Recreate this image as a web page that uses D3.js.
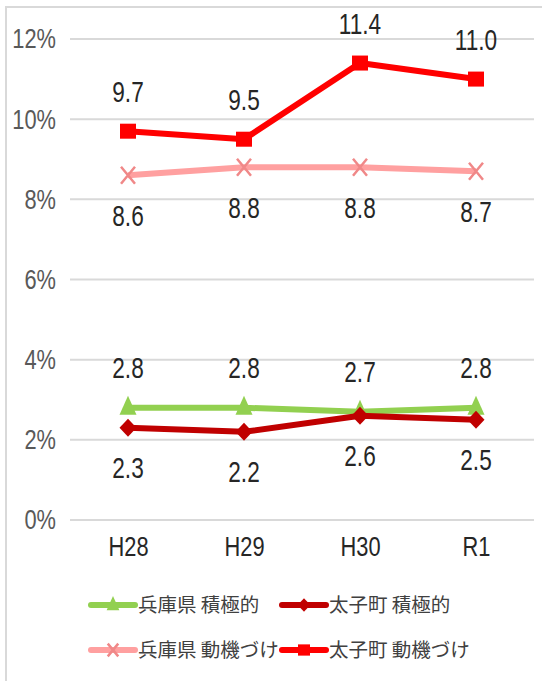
<!DOCTYPE html>
<html>
<head>
<meta charset="utf-8">
<script src="https://cdn.jsdelivr.net/npm/d3@7"></script>
<style>
  body { margin: 0; background: #fff; }
  .num { font-family: "Liberation Sans", Arial, sans-serif; }
  .jp { font-family: "Noto Sans CJK JP", sans-serif; }
</style>
</head>
<body>
<div id="chart"></div>
<script>
const categories = ["H28", "H29", "H30", "R1"];
const yTicks = [0, 2, 4, 6, 8, 10, 12];

const hyogoActive = [2.8, 2.8, 2.7, 2.8];
const taishiActive = [2.3, 2.2, 2.6, 2.5];
const hyogoMotive = [8.6, 8.8, 8.8, 8.7];
const taishiMotive = [9.7, 9.5, 11.4, 11.0];

const seriesNames = ["兵庫県 積極的", "太子町 積極的", "兵庫県 動機づけ", "太子町 動機づけ"];

const width = 542, height = 681;
const squeeze = 0.78; // the original number font is a narrow one

const svg = d3.select("#chart").append("svg")
    .attr("width", width)
    .attr("height", height);

// outer frame (runs off the right and bottom)
svg.append("rect")
    .attr("x", 6).attr("y", 7)
    .attr("width", 600).attr("height", 700)
    .attr("fill", "none")
    .attr("stroke", "#d9d9d9")
    .attr("stroke-width", 2);

const x = d3.scalePoint().domain(categories).range([70, 534]).padding(0.5);
const y = d3.scaleLinear().domain([0, 12]).range([520, 39]);

// gridlines
svg.append("g").selectAll("line")
    .data(yTicks)
    .join("line")
    .attr("x1", 70).attr("x2", 534)
    .attr("y1", d => y(d)).attr("y2", d => y(d))
    .attr("stroke", "#d9d9d9")
    .attr("stroke-width", 2);

// y axis labels
const yAxis = svg.append("g")
    .attr("transform", "translate(56,0)")
    .call(d3.axisLeft(y).tickValues(yTicks).tickSize(0).tickPadding(0).tickFormat(d => d + "%"));
yAxis.select(".domain").remove();
yAxis.selectAll("text")
    .attr("class", "num")
    .attr("font-size", 28)
    .attr("fill", "#595959")
    .attr("transform", `scale(${squeeze},1)`);

// x axis labels
const xAxis = svg.append("g")
    .attr("transform", "translate(0,536)")
    .call(d3.axisBottom(x).tickSize(0).tickPadding(0));
xAxis.select(".domain").remove();
xAxis.selectAll("text")
    .attr("class", "num")
    .attr("font-size", 28)
    .attr("fill", "#262626")
    .attr("transform", `scale(${squeeze},1)`);

const series = [
    { name: seriesNames[0], values: hyogoActive, color: "#92d050", mark: "#92d050", shape: "triangle", width: 6, label: -40 },
    { name: seriesNames[1], values: taishiActive, color: "#c00000", mark: "#c00000", shape: "diamond", width: 6, label: 40 },
    { name: seriesNames[2], values: hyogoMotive, color: "#ffa0a0", mark: "#f08888", shape: "cross", width: 6, label: 40 },
    { name: seriesNames[3], values: taishiMotive, color: "#ff0000", mark: "#ff0000", shape: "square", width: 6, label: -40 }
];

const line = d3.line()
    .x((d, i) => x(categories[i]))
    .y(d => y(d));

function drawMarker(g, s, small) {
    const k = small ? 0.75 : 1;
    if (s.shape === "triangle") {
        g.append("path").attr("d", `M0,${-12 * k}L${8.5 * k},${7 * k}L${-8.5 * k},${7 * k}Z`).attr("fill", s.mark);
    } else if (s.shape === "diamond") {
        g.append("path").attr("d", `M0,${-9 * k}L${8.5 * k},0L0,${9 * k}L${-8.5 * k},0Z`).attr("fill", s.mark);
    } else if (s.shape === "square") {
        g.append("rect").attr("x", -8 * k).attr("y", -7.5 * k).attr("width", 16 * k).attr("height", 15 * k).attr("fill", s.mark);
    } else {
        g.append("path").attr("d", `M${-7 * k},${-8.5 * k}L${7 * k},${8.5 * k}M${-7 * k},${8.5 * k}L${7 * k},${-8.5 * k}`)
            .attr("stroke", s.mark).attr("stroke-width", 2.5).attr("fill", "none");
    }
}

// draw order: pink, red, green, dark red
[2, 3, 0, 1].forEach(k => {
    const s = series[k];
    svg.append("path")
        .datum(s.values)
        .attr("d", line)
        .attr("fill", "none")
        .attr("stroke", s.color)
        .attr("stroke-width", s.width)
        .attr("stroke-linejoin", "round");
    s.values.forEach((v, i) => {
        const g = svg.append("g").attr("transform", `translate(${x(categories[i])},${y(v)})`);
        drawMarker(g, s);
    });
});

// data labels
series.forEach(s => {
    svg.append("g").selectAll("text")
        .data(s.values)
        .join("text")
        .attr("class", "num")
        .attr("transform", (d, i) => `translate(${x(categories[i])},${y(d) + s.label}) scale(${squeeze},1)`)
        .attr("dy", "0.36em")
        .attr("text-anchor", "middle")
        .attr("font-size", 29)
        .attr("fill", "#262626")
        .text(d => d.toFixed(1));
});

// legend
const legend = svg.append("g");
const legendPos = [[91, 605], [282, 605], [91, 650], [282, 650]];
series.forEach((s, k) => {
    const [lx, ly] = legendPos[k];
    const g = legend.append("g").attr("transform", `translate(${lx},${ly})`);
    g.append("line")
        .attr("x1", 0).attr("x2", 44)
        .attr("stroke", s.color)
        .attr("stroke-width", 6)
        .attr("stroke-linecap", "round");
    const m = g.append("g").attr("transform", "translate(22,0)");
    drawMarker(m, s, true);
    g.append("text")
        .attr("class", "jp")
        .attr("x", 47)
        .attr("dy", "0.35em")
        .attr("font-size", 19.5)
        .attr("fill", "#404040")
        .text(s.name);
});
</script>
</body>
</html>
